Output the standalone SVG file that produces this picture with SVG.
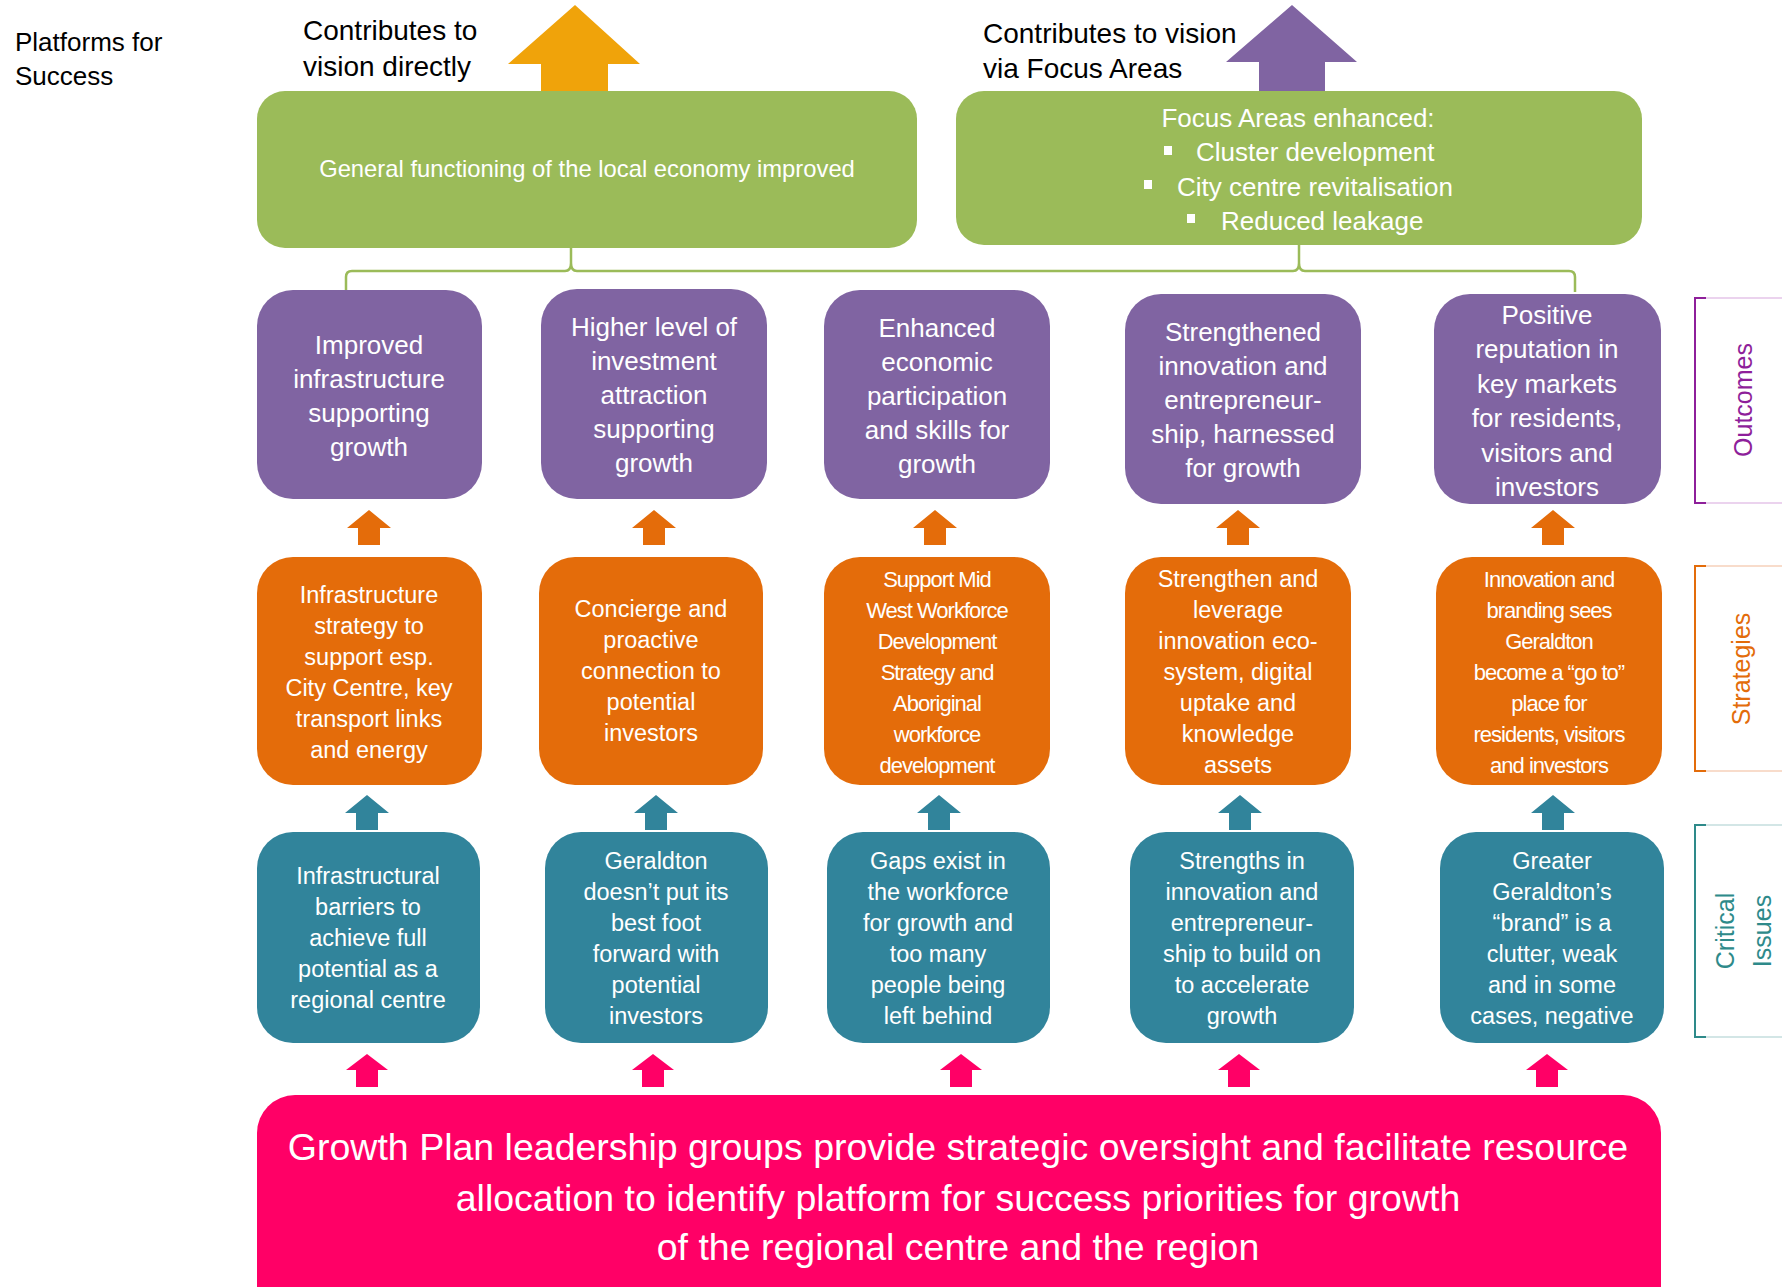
<svg xmlns="http://www.w3.org/2000/svg" width="1782" height="1287" viewBox="0 0 1782 1287">
<style>
  text { font-family: "Liberation Sans", Arial, sans-serif; }
  .title { font-size: 26px; fill: #000; }
  .contrib { font-size: 28px; fill: #000; }
  .green { fill: #9BBB59; }
  .purple { fill: #8064A2; }
  .orange { fill: #E46C0A; }
  .teal { fill: #31849B; }
  .pink { fill: #FF0066; }
  .wt { fill: #fff; text-anchor: middle; }
  .t-green { font-size: 23.8px; }
  .t-focus { font-size: 26px; fill: #fff; }
  .t-out { font-size: 26px; }
  .t-str { font-size: 23.5px; }
  .t-strc { font-size: 22px; letter-spacing: -1px; }
  .t-iss { font-size: 23.5px; }
  .t-pink { font-size: 37.5px; }
  .lbl { font-size: 25px; text-anchor: middle; }
  .brace { fill: none; stroke: #9BBB59; stroke-width: 2.5; }
</style>
<defs>
  <path id="sarrow" d="M0,0 L22,18 L11,18 L11,35 L-11,35 L-11,18 L-22,18 Z"/>
  <path id="parrow" d="M0,0 L21,16 L11,16 L11,33 L-11,33 L-11,16 L-21,16 Z"/>
</defs>

<g id="title">
  <text class="title" x="15" y="51">Platforms for</text>
  <text class="title" x="15" y="85">Success</text>
</g>

<g id="vision-direct">
  <text class="contrib" x="303" y="40">Contributes to</text>
  <text class="contrib" x="303" y="76">vision  directly</text>
  <path fill="#F0A30A" d="M575,5 L640,64 L608,64 L608,92 L541,92 L541,64 L508,64 Z"/>
</g>

<g id="vision-focus">
  <text class="contrib" x="983" y="43">Contributes to vision</text>
  <text class="contrib" x="983" y="78">via Focus Areas</text>
  <path fill="#8064A2" d="M1292,5 L1357,62 L1325,62 L1325,92 L1259,92 L1259,62 L1226,62 Z"/>
</g>

<g id="general-functioning">
  <rect class="green" x="257" y="91" width="660" height="157" rx="28"/>
  <text class="wt t-green" x="587" y="177">General  functioning of the local economy improved</text>
</g>

<g id="focus-areas">
  <rect class="green" x="956" y="91" width="686" height="154" rx="28"/>
  <text class="wt t-focus" x="1298" y="127">Focus Areas enhanced:</text>
  <rect fill="#fff" x="1164" y="146" width="8" height="9"/>
  <text class="t-focus" x="1196" y="161">Cluster development</text>
  <rect fill="#fff" x="1144" y="180" width="8" height="9"/>
  <text class="t-focus" x="1177" y="196">City centre revitalisation</text>
  <rect fill="#fff" x="1187" y="214" width="8" height="9"/>
  <text class="t-focus" x="1221" y="230">Reduced leakage</text>
</g>

<g id="connectors">
  <path class="brace" d="M346,292 L346,277 Q346,271 352,271 L565,271 Q571,271 571,263 L571,248 M571,263 Q571,271 577,271 L1293,271 Q1299,271 1299,263 L1299,245 M1299,263 Q1299,271 1305,271 L1569,271 Q1575,271 1575,277 L1575,292"/>
  <g class="orange">
    <use href="#sarrow" x="369" y="510"/>
    <use href="#sarrow" x="654" y="510"/>
    <use href="#sarrow" x="935" y="510"/>
    <use href="#sarrow" x="1238" y="510"/>
    <use href="#sarrow" x="1553" y="510"/>
  </g>
  <g class="teal">
    <use href="#sarrow" x="367" y="795"/>
    <use href="#sarrow" x="656" y="795"/>
    <use href="#sarrow" x="939" y="795"/>
    <use href="#sarrow" x="1240" y="795"/>
    <use href="#sarrow" x="1553" y="795"/>
  </g>
  <g class="pink">
    <use href="#parrow" x="367" y="1054"/>
    <use href="#parrow" x="653" y="1054"/>
    <use href="#parrow" x="961" y="1054"/>
    <use href="#parrow" x="1239" y="1054"/>
    <use href="#parrow" x="1547" y="1054"/>
  </g>
</g>

<!-- Outcomes -->
<g id="outcome-1">
  <rect class="purple" x="257" y="290" width="225" height="209" rx="36"/>
  <text class="wt t-out"><tspan x="369" y="354">Improved</tspan><tspan x="369" y="388">infrastructure</tspan><tspan x="369" y="422">supporting</tspan><tspan x="369" y="456">growth</tspan></text>
</g>
<g id="outcome-2">
  <rect class="purple" x="541" y="289" width="226" height="210" rx="36"/>
  <text class="wt t-out"><tspan x="654" y="336">Higher level of</tspan><tspan x="654" y="370">investment</tspan><tspan x="654" y="404">attraction</tspan><tspan x="654" y="438">supporting</tspan><tspan x="654" y="472">growth</tspan></text>
</g>
<g id="outcome-3">
  <rect class="purple" x="824" y="290" width="226" height="209" rx="36"/>
  <text class="wt t-out"><tspan x="937" y="337">Enhanced</tspan><tspan x="937" y="371">economic</tspan><tspan x="937" y="405">participation</tspan><tspan x="937" y="439">and skills for</tspan><tspan x="937" y="473">growth</tspan></text>
</g>
<g id="outcome-4">
  <rect class="purple" x="1125" y="294" width="236" height="210" rx="36"/>
  <text class="wt t-out"><tspan x="1243" y="341">Strengthened</tspan><tspan x="1243" y="375">innovation and</tspan><tspan x="1243" y="409">entrepreneur-</tspan><tspan x="1243" y="443">ship, harnessed</tspan><tspan x="1243" y="477">for growth</tspan></text>
</g>
<g id="outcome-5">
  <rect class="purple" x="1434" y="294" width="227" height="210" rx="36"/>
  <text class="wt t-out"><tspan x="1547" y="324">Positive</tspan><tspan x="1547" y="358">reputation in</tspan><tspan x="1547" y="393">key markets</tspan><tspan x="1547" y="427">for residents,</tspan><tspan x="1547" y="462">visitors and</tspan><tspan x="1547" y="496">investors</tspan></text>
</g>

<!-- Strategies -->
<g id="strategy-1">
  <rect class="orange" x="257" y="557" width="225" height="228" rx="36"/>
  <text class="wt t-str"><tspan x="369" y="603">Infrastructure</tspan><tspan x="369" y="634">strategy  to</tspan><tspan x="369" y="665">support esp.</tspan><tspan x="369" y="696">City Centre,  key</tspan><tspan x="369" y="727">transport links</tspan><tspan x="369" y="758">and energy</tspan></text>
</g>
<g id="strategy-2">
  <rect class="orange" x="539" y="557" width="224" height="228" rx="36"/>
  <text class="wt t-str"><tspan x="651" y="617">Concierge and</tspan><tspan x="651" y="648">proactive</tspan><tspan x="651" y="679">connection to</tspan><tspan x="651" y="710">potential</tspan><tspan x="651" y="741">investors</tspan></text>
</g>
<g id="strategy-3">
  <rect class="orange" x="824" y="557" width="226" height="228" rx="36"/>
  <text class="wt t-strc"><tspan x="937" y="587">Support  Mid</tspan><tspan x="937" y="618">West Workforce</tspan><tspan x="937" y="649">Development</tspan><tspan x="937" y="680">Strategy  and</tspan><tspan x="937" y="711">Aboriginal</tspan><tspan x="937" y="742">workforce</tspan><tspan x="937" y="773">development</tspan></text>
</g>
<g id="strategy-4">
  <rect class="orange" x="1125" y="557" width="226" height="228" rx="36"/>
  <text class="wt t-str"><tspan x="1238" y="587">Strengthen  and</tspan><tspan x="1238" y="618">leverage</tspan><tspan x="1238" y="649">innovation eco-</tspan><tspan x="1238" y="680">system,  digital</tspan><tspan x="1238" y="711">uptake and</tspan><tspan x="1238" y="742">knowledge</tspan><tspan x="1238" y="773">assets</tspan></text>
</g>
<g id="strategy-5">
  <rect class="orange" x="1436" y="557" width="226" height="228" rx="36"/>
  <text class="wt t-strc"><tspan x="1549" y="587">Innovation  and</tspan><tspan x="1549" y="618">branding  sees</tspan><tspan x="1549" y="649">Geraldton</tspan><tspan x="1549" y="680">become  a “go to”</tspan><tspan x="1549" y="711">place for</tspan><tspan x="1549" y="742">residents,  visitors</tspan><tspan x="1549" y="773">and investors</tspan></text>
</g>

<!-- Critical issues -->
<g id="issue-1">
  <rect class="teal" x="257" y="832" width="223" height="211" rx="36"/>
  <text class="wt t-iss"><tspan x="368" y="884">Infrastructural</tspan><tspan x="368" y="915">barriers  to</tspan><tspan x="368" y="946">achieve full</tspan><tspan x="368" y="977">potential  as a</tspan><tspan x="368" y="1008">regional  centre</tspan></text>
</g>
<g id="issue-2">
  <rect class="teal" x="545" y="832" width="223" height="211" rx="36"/>
  <text class="wt t-iss"><tspan x="656" y="869">Geraldton</tspan><tspan x="656" y="900">doesn’t put its</tspan><tspan x="656" y="931">best foot</tspan><tspan x="656" y="962">forward  with</tspan><tspan x="656" y="993">potential</tspan><tspan x="656" y="1024">investors</tspan></text>
</g>
<g id="issue-3">
  <rect class="teal" x="827" y="832" width="223" height="211" rx="36"/>
  <text class="wt t-iss"><tspan x="938" y="869">Gaps exist in</tspan><tspan x="938" y="900">the workforce</tspan><tspan x="938" y="931">for growth and</tspan><tspan x="938" y="962">too many</tspan><tspan x="938" y="993">people being</tspan><tspan x="938" y="1024">left behind</tspan></text>
</g>
<g id="issue-4">
  <rect class="teal" x="1130" y="832" width="224" height="211" rx="36"/>
  <text class="wt t-iss"><tspan x="1242" y="869">Strengths  in</tspan><tspan x="1242" y="900">innovation and</tspan><tspan x="1242" y="931">entrepreneur-</tspan><tspan x="1242" y="962">ship to build on</tspan><tspan x="1242" y="993">to accelerate</tspan><tspan x="1242" y="1024">growth</tspan></text>
</g>
<g id="issue-5">
  <rect class="teal" x="1440" y="832" width="224" height="211" rx="36"/>
  <text class="wt t-iss"><tspan x="1552" y="869">Greater</tspan><tspan x="1552" y="900">Geraldton’s</tspan><tspan x="1552" y="931">“brand”  is a</tspan><tspan x="1552" y="962">clutter,  weak</tspan><tspan x="1552" y="993">and in some</tspan><tspan x="1552" y="1024">cases, negative</tspan></text>
</g>

<g id="leadership">
  <rect class="pink" x="257" y="1095" width="1404" height="240" rx="38"/>
  <text class="wt t-pink"><tspan x="958" y="1160">Growth Plan leadership groups provide strategic oversight and facilitate resource</tspan><tspan x="958" y="1211">allocation to identify platform for success priorities for growth</tspan><tspan x="958" y="1260">of the regional centre and the region</tspan></text>
</g>

<g id="label-outcomes">
  <path d="M1782,298 H1695 V503 H1782" fill="none" stroke="#EBD3EE" stroke-width="2"/>
  <path d="M1706,298 H1695 V503 H1706" fill="none" stroke="#8E1F9A" stroke-width="2"/>
  <text class="lbl" fill="#8E1F9A" transform="translate(1752,400) rotate(-90)">Outcomes</text>
</g>
<g id="label-strategies">
  <path d="M1782,566 H1695 V771 H1782" fill="none" stroke="#F8DCCB" stroke-width="2"/>
  <path d="M1706,566 H1695 V771 H1706" fill="none" stroke="#E36C0A" stroke-width="2"/>
  <text class="lbl" fill="#E36C0A" transform="translate(1750,669) rotate(-90)">Strategies</text>
</g>
<g id="label-issues">
  <path d="M1782,825 H1695 V1037 H1782" fill="none" stroke="#D3E6E6" stroke-width="2"/>
  <path d="M1706,825 H1695 V1037 H1706" fill="none" stroke="#2E8A8A" stroke-width="2"/>
  <text class="lbl" fill="#2E8A8A" transform="translate(1734,931) rotate(-90)">Critical</text>
  <text class="lbl" fill="#2E8A8A" transform="translate(1771,931) rotate(-90)">Issues</text>
</g>
</svg>
